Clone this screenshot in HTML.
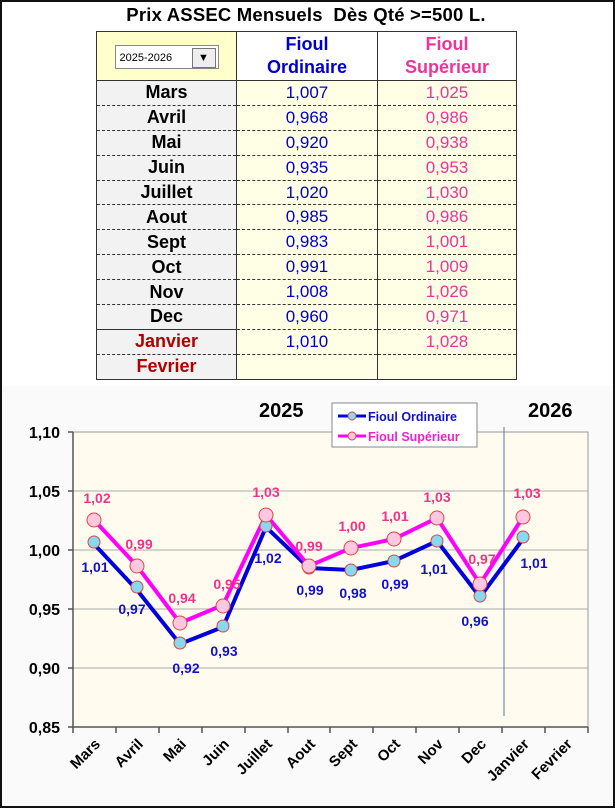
<!DOCTYPE html>
<html><head><meta charset="utf-8"><style>
body{margin:0;width:615px;height:808px;background:#fff;font-family:"Liberation Sans",Arial,sans-serif;position:relative;overflow:hidden}
.frame{position:absolute;left:0;top:0;width:611px;height:804px;border:2px solid #111}
.title{position:absolute;left:96px;top:4px;width:420px;text-align:center;font-weight:bold;font-size:18.5px;letter-spacing:0.2px}
table{position:absolute;left:96px;top:31px;border-collapse:collapse;font-size:17px}
td{border-left:1px solid #333;border-right:1px solid #333;height:23.9px;padding:0;text-align:center;border-bottom:1px dashed #333}
td.m{width:139px;background:#f2f2f2;font-weight:bold;font-size:18px}
td.o{width:140px;background:#ffffe6;color:#0000cc}
td.s{width:138px;background:#ffffe6;color:#ee3399}
.hd td{height:48px;font-weight:bold;font-size:18px;border-bottom:1px solid #333;border-top:1px solid #333;line-height:23px}
.red{color:#b00000 !important}
.sel{display:inline-block;width:104px;height:24px;border:1px solid #888;background:#fff;font-size:11px;font-weight:normal;text-align:left;position:relative;line-height:24px;padding-left:4px;box-sizing:border-box}
.sel b{position:absolute;right:2px;top:2px;width:22px;height:18px;border:1px solid #777;background:#eee;font-size:11px;line-height:18px;text-align:center;color:#000}
</style></head><body>
<div class="frame"></div>
<div class="title">Prix ASSEC Mensuels&nbsp; Dès Qté &gt;=500 L.</div>
<table>
<tr class="hd"><td class="m" style="background:#ffffcc"><span class="sel">2025-2026<b>▼</b></span></td><td class="o" style="background:#fff">Fioul<br>Ordinaire</td><td class="s" style="background:#fff">Fioul<br>Supérieur</td></tr>
<tr><td class="m">Mars</td><td class="o">1,007</td><td class="s">1,025</td></tr>
<tr><td class="m">Avril</td><td class="o">0,968</td><td class="s">0,986</td></tr>
<tr><td class="m">Mai</td><td class="o">0,920</td><td class="s">0,938</td></tr>
<tr><td class="m">Juin</td><td class="o">0,935</td><td class="s">0,953</td></tr>
<tr><td class="m">Juillet</td><td class="o">1,020</td><td class="s">1,030</td></tr>
<tr><td class="m">Aout</td><td class="o">0,985</td><td class="s">0,986</td></tr>
<tr><td class="m">Sept</td><td class="o">0,983</td><td class="s">1,001</td></tr>
<tr><td class="m">Oct</td><td class="o">0,991</td><td class="s">1,009</td></tr>
<tr><td class="m">Nov</td><td class="o">1,008</td><td class="s">1,026</td></tr>
<tr><td class="m">Dec</td><td class="o">0,960</td><td class="s">0,971</td></tr>
<tr><td class="m red" style="border-top:1px solid #333">Janvier</td><td class="o">1,010</td><td class="s">1,028</td></tr>
<tr><td class="m red" style="border-bottom:1px solid #333">Fevrier</td><td class="o" style="border-bottom:1px solid #333"></td><td class="s" style="border-bottom:1px solid #333"></td></tr>
</table>
<svg style="position:absolute;left:0;top:0" width="615" height="808" font-family="Liberation Sans,Arial,sans-serif" font-weight="bold">
<rect x="2" y="386" width="611" height="420" fill="#fafafa"/>
<rect x="73" y="432" width="515" height="295" fill="#fffcef" stroke="#999"/>
<g stroke="#aaa" stroke-width="1">
<line x1="73" x2="588" y1="491" y2="491"/><line x1="73" x2="588" y1="550" y2="550"/><line x1="73" x2="588" y1="609" y2="609"/><line x1="73" x2="588" y1="668" y2="668"/>
</g>
<g stroke="#555" stroke-width="1.5">
<line x1="73" x2="73" y1="432" y2="727"/><line x1="68" x2="588" y1="727" y2="727"/>
<line x1="68" x2="73" y1="432" y2="432"/><line x1="68" x2="73" y1="491" y2="491"/><line x1="68" x2="73" y1="550" y2="550"/><line x1="68" x2="73" y1="609" y2="609"/><line x1="68" x2="73" y1="668" y2="668"/>
<path d="M73 727v6M116 727v6M159 727v6M202 727v6M245 727v6M288 727v6M330 727v6M373 727v6M416 727v6M459 727v6M502 727v6M545 727v6M588 727v6"/>
</g>
<line x1="504" x2="504" y1="427" y2="716" stroke="#5577aa" stroke-width="1"/>
<g font-size="16" text-anchor="end">
<text x="60" y="438">1,10</text><text x="60" y="497">1,05</text><text x="60" y="556">1,00</text><text x="60" y="615">0,95</text><text x="60" y="674">0,90</text><text x="60" y="733">0,85</text>
</g>
<text x="259" y="417" font-size="20">2025</text><text x="528" y="417" font-size="20">2026</text>
<g font-size="15" text-anchor="end">
<text transform="translate(101,745) rotate(-45)">Mars</text>
<text transform="translate(144,745) rotate(-45)">Avril</text>
<text transform="translate(187,745) rotate(-45)">Mai</text>
<text transform="translate(230,745) rotate(-45)">Juin</text>
<text transform="translate(273,745) rotate(-45)">Juillet</text>
<text transform="translate(316,745) rotate(-45)">Aout</text>
<text transform="translate(358,745) rotate(-45)">Sept</text>
<text transform="translate(401,745) rotate(-45)">Oct</text>
<text transform="translate(444,745) rotate(-45)">Nov</text>
<text transform="translate(487,745) rotate(-45)">Dec</text>
<text transform="translate(530,745) rotate(-45)">Janvier</text>
<text transform="translate(573,745) rotate(-45)">Fevrier</text>
</g>
<polyline fill="none" stroke="#0000dd" stroke-width="4" points="94,544 137,590 180,644 223,627 266,527 309,568 351,570 394,561 437,541 480,597 523,539"/>
<polyline fill="none" stroke="#ff00ff" stroke-width="4" points="94,520 137,566 180,623 223,605 266,515 309,566 351,548 394,539 437,518 480,584 523,517"/>
<g fill="#88d8f0" stroke="#dd4444" stroke-width="1">
<circle cx="94" cy="542" r="6"/><circle cx="137" cy="587" r="6"/><circle cx="180" cy="643" r="6"/><circle cx="223" cy="626" r="6"/><circle cx="266" cy="526" r="6"/><circle cx="309" cy="568" r="6"/><circle cx="351" cy="570" r="6"/><circle cx="394" cy="561" r="6"/><circle cx="437" cy="541" r="6"/><circle cx="480" cy="596" r="6"/><circle cx="523" cy="537" r="6"/>
</g>
<g fill="#ffc8e0" stroke="#dd4444" stroke-width="1">
<circle cx="94" cy="520" r="7"/><circle cx="137" cy="566" r="7"/><circle cx="180" cy="623" r="7"/><circle cx="223" cy="606" r="7"/><circle cx="266" cy="515" r="7"/><circle cx="309" cy="566" r="7"/><circle cx="351" cy="548" r="7"/><circle cx="394" cy="539" r="7"/><circle cx="437" cy="518" r="7"/><circle cx="480" cy="584" r="7"/><circle cx="523" cy="517" r="7"/>
</g>
<g font-size="14" fill="#ee3388" text-anchor="middle">
<text x="97" y="503">1,02</text><text x="139" y="549">0,99</text><text x="182" y="603">0,94</text><text x="227" y="589">0,95</text><text x="266" y="497">1,03</text><text x="309" y="551">0,99</text><text x="352" y="531">1,00</text><text x="395" y="521">1,01</text><text x="437" y="502">1,03</text><text x="482" y="564">0,97</text><text x="527" y="498">1,03</text>
</g>
<g font-size="14" fill="#1111cc" text-anchor="middle">
<text x="95" y="572">1,01</text><text x="132" y="614">0,97</text><text x="186" y="673">0,92</text><text x="224" y="656">0,93</text><text x="268" y="563">1,02</text><text x="310" y="595">0,99</text><text x="353" y="598">0,98</text><text x="395" y="589">0,99</text><text x="434" y="574">1,01</text><text x="475" y="626">0,96</text><text x="534" y="568">1,01</text>
</g>
<rect x="332" y="403" width="145" height="44" fill="#fff" stroke="#888"/>
<line x1="338" x2="366" y1="416" y2="416" stroke="#0000dd" stroke-width="3"/><circle cx="352" cy="416" r="4" fill="#88d8f0" stroke="#dd4444"/>
<text x="368" y="421" font-size="12.5" fill="#1111cc">Fioul Ordinaire</text>
<line x1="338" x2="366" y1="436" y2="436" stroke="#ff00ff" stroke-width="3"/><circle cx="352" cy="436" r="4" fill="#ffc8e0" stroke="#dd4444"/>
<text x="368" y="441" font-size="12.5" fill="#ee22cc">Fioul Supérieur</text>
</svg>
</body></html>
